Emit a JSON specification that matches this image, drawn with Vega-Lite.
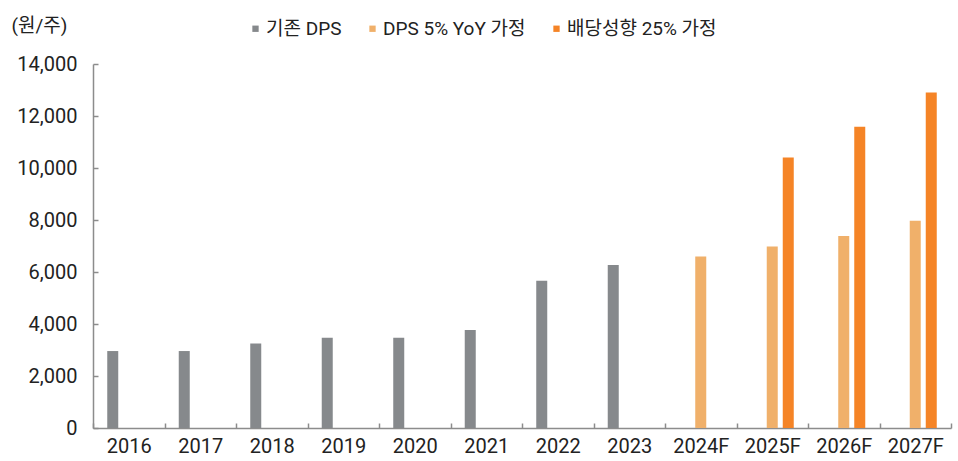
{
  "$schema": "https://vega.github.io/schema/vega-lite/v6.json",
  "width": 858,
  "height": 364,
  "autosize": "none",
  "padding": {"left": 93, "top": 64, "right": 7, "bottom": 33},
  "background": "white",
  "config": {
    "font": "Roboto, Noto Sans CJK KR",
    "view": {"stroke": null}
  },
  "data": {
    "values": [
      {"year": "2016", "series": "기존 DPS", "value": 2960},
      {"year": "2017", "series": "기존 DPS", "value": 2960},
      {"year": "2018", "series": "기존 DPS", "value": 3250},
      {"year": "2019", "series": "기존 DPS", "value": 3470},
      {"year": "2020", "series": "기존 DPS", "value": 3470},
      {"year": "2021", "series": "기존 DPS", "value": 3770},
      {"year": "2022", "series": "기존 DPS", "value": 5665},
      {"year": "2023", "series": "기존 DPS", "value": 6265},
      {"year": "2024F", "series": "DPS 5% YoY 가정", "value": 6600},
      {"year": "2025F", "series": "DPS 5% YoY 가정", "value": 6985},
      {"year": "2026F", "series": "DPS 5% YoY 가정", "value": 7385},
      {"year": "2027F", "series": "DPS 5% YoY 가정", "value": 7970},
      {"year": "2025F", "series": "배당성향 25% 가정", "value": 10400},
      {"year": "2026F", "series": "배당성향 25% 가정", "value": 11590},
      {"year": "2027F", "series": "배당성향 25% 가정", "value": 12900}
    ]
  },
  "mark": {"type": "bar"},
  "encoding": {
    "x": {
      "field": "year",
      "type": "nominal",
      "sort": null,
      "scale": {"paddingInner": 0, "paddingOuter": 0},
      "axis": {
        "title": null,
        "labelAngle": 0,
        "labelFontSize": 20,
        "labelColor": "#222222",
        "labelPadding": 13,
        "domainColor": "#8c8c8c",
        "domainWidth": 1.5,
        "tickColor": "#8c8c8c",
        "tickBand": "extent",
        "tickSize": -5,
        "tickWidth": 1.5
      }
    },
    "xOffset": {
      "field": "series",
      "type": "nominal",
      "sort": ["기존 DPS", "DPS 5% YoY 가정", "배당성향 25% 가정"],
      "scale": {"paddingInner": 0.3125, "paddingOuter": 0.89}
    },
    "y": {
      "field": "value",
      "type": "quantitative",
      "scale": {"domain": [0, 14000], "nice": false},
      "axis": {
        "values": [0, 2000, 4000, 6000, 8000, 10000, 12000, 14000],
        "format": ",d",
        "grid": false,
        "title": "(원/주)",
        "titleAngle": 0,
        "titleX": -82,
        "titleY": -39,
        "titleAlign": "left",
        "titleBaseline": "middle",
        "titleFontSize": 19,
        "titleFontWeight": "normal",
        "titleColor": "#222222",
        "labelFontSize": 20,
        "labelColor": "#222222",
        "labelPadding": 21,
        "domainColor": "#8c8c8c",
        "domainWidth": 1.5,
        "tickColor": "#8c8c8c",
        "tickSize": -5,
        "tickWidth": 1.5
      }
    },
    "color": {
      "field": "series",
      "type": "nominal",
      "sort": ["기존 DPS", "DPS 5% YoY 가정", "배당성향 25% 가정"],
      "scale": {
        "domain": ["기존 DPS", "DPS 5% YoY 가정", "배당성향 25% 가정"],
        "range": ["#86898c", "#f0b06a", "#f58426"]
      },
      "legend": {
        "title": null,
        "orient": "none",
        "direction": "horizontal",
        "legendX": 153,
        "legendY": -45,
        "symbolType": "square",
        "symbolSize": 40,
        "symbolStrokeWidth": 0,
        "labelFontSize": 19,
        "labelColor": "#222222",
        "labelOffset": 1,
        "columnPadding": 21
      }
    }
  }
}
